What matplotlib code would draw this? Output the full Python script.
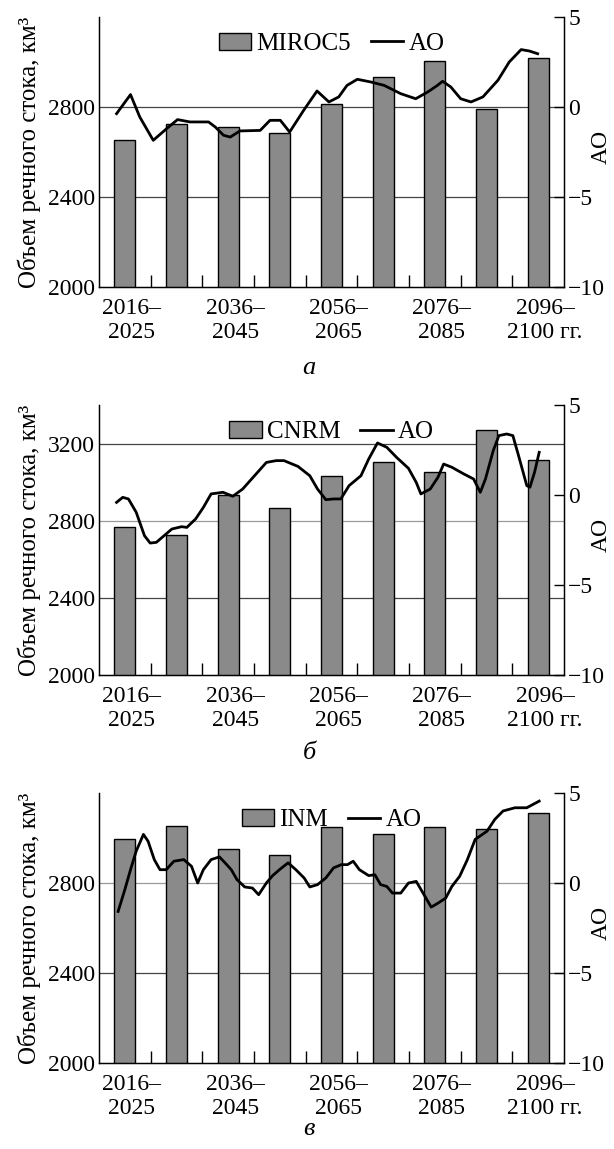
import numpy as np
import matplotlib.pyplot as plt
import matplotlib.transforms as mtransforms
from matplotlib.patches import Patch
from matplotlib.lines import Line2D

plt.rcParams['font.family'] = ['Liberation Serif', 'DejaVu Serif']
plt.rcParams['axes.unicode_minus'] = True

# -------------------------
# Data
# -------------------------
tick_labels = ["2016–\n2025", "2036–\n2045", "2056–\n2065", "2076–\n2085", "2096–\n2100 гг."]
n_periods = 9

models = ["MIROC5", "CNRM", "INM"]
panel_letters = ["а", "б", "в"]

miroc5 = [2652, 2723, 2711, 2683, 2812, 2935, 3003, 2793, 3018]
cnrm = [2770, 2727, 2934, 2864, 3031, 3106, 3052, 3270, 3113]
inm = [2997, 3052, 2950, 2924, 3049, 3019, 3050, 3039, 3110]

# AO curves, x in bar units (0 = first decade)
ao_x_a = [-0.16, 0.11, 0.29, 0.55, 0.81, 1.02, 1.26, 1.62, 1.75, 1.91, 2.04, 2.23, 2.62, 2.81,
          3.01, 3.19, 3.46, 3.72, 3.95, 4.14, 4.30, 4.50, 4.76, 5.02, 5.34, 5.63, 5.86, 6.05,
          6.15, 6.31, 6.50, 6.70, 6.93, 7.22, 7.44, 7.67, 7.83, 7.99]
ao_y_a = [-0.37, 0.69, -0.56, -1.85, -1.20, -0.70, -0.83, -0.83, -1.11, -1.57, -1.67, -1.33,
          -1.30, -0.74, -0.74, -1.39, -0.19, 0.89, 0.28, 0.56, 1.20, 1.54, 1.39, 1.20, 0.74,
          0.46, 0.83, 1.20, 1.43, 1.11, 0.46, 0.28, 0.56, 1.48, 2.50, 3.19, 3.11, 2.96]

ao_x_b = [-0.16, -0.04, 0.07, 0.22, 0.38, 0.49, 0.61, 0.76, 0.91, 1.10, 1.20, 1.37, 1.52, 1.67,
          1.90, 2.09, 2.28, 2.51, 2.74, 2.93, 3.08, 3.35, 3.58, 3.73, 3.89, 4.04, 4.18, 4.34,
          4.57, 4.72, 4.89, 5.07, 5.26, 5.49, 5.64, 5.73, 5.91, 6.06, 6.17, 6.33, 6.56, 6.75,
          6.88, 6.98, 7.13, 7.24, 7.39, 7.51, 7.62, 7.78, 7.84, 7.93, 8.02]
ao_y_b = [-0.41, -0.13, -0.22, -0.96, -2.26, -2.67, -2.63, -2.26, -1.89, -1.76, -1.80, -1.33,
          -0.69, 0.06, 0.15, -0.07, 0.33, 1.07, 1.81, 1.91, 1.91, 1.59, 1.07, 0.33, -0.26,
          -0.22, -0.22, 0.52, 1.07, 2.00, 2.89, 2.65, 2.09, 1.48, 0.70, 0.06, 0.33, 0.98,
          1.72, 1.54, 1.17, 0.89, 0.15, 0.89, 2.46, 3.30, 3.39, 3.30, 2.19, 0.52, 0.43, 1.26, 2.37]

ao_x_c = [-0.13, 0.00, 0.11, 0.22, 0.36, 0.45, 0.57, 0.68, 0.80, 0.95, 1.14, 1.29, 1.41, 1.52,
          1.67, 1.83, 1.94, 2.06, 2.17, 2.32, 2.47, 2.59, 2.74, 2.86, 3.01, 3.16, 3.31, 3.47,
          3.58, 3.73, 3.89, 4.04, 4.19, 4.31, 4.42, 4.54, 4.72, 4.84, 4.95, 5.07, 5.18, 5.34,
          5.49, 5.64, 5.79, 5.93, 6.06, 6.21, 6.33, 6.48, 6.63, 6.78, 7.01, 7.16, 7.32, 7.55,
          7.78, 8.02]
ao_y_c = [-1.58, -0.37, 0.74, 1.77, 2.70, 2.32, 1.30, 0.74, 0.74, 1.21, 1.30, 0.93, 0.00, 0.74,
          1.30, 1.45, 1.12, 0.74, 0.19, -0.22, -0.28, -0.65, 0.00, 0.41, 0.78, 1.12, 0.74,
          0.28, -0.22, -0.09, 0.28, 0.84, 1.02, 1.02, 1.21, 0.74, 0.41, 0.46, -0.09, -0.19,
          -0.56, -0.56, 0.00, 0.09, -0.65, -1.34, -1.12, -0.84, -0.19, 0.37, 1.30, 2.42, 2.88,
          3.53, 4.00, 4.18, 4.18, 4.55]

runoff = [miroc5, cnrm, inm]
ao_x = [ao_x_a, ao_x_b, ao_x_c]
ao_y = [ao_y_a, ao_y_b, ao_y_c]
y_tops = [3200, 3400, 3200]
y_ticks = [[2000, 2400, 2800], [2000, 2400, 2800, 3200], [2000, 2400, 2800]]
grid_colors = [["#444444", "#444444", "#444444"],
               ["#444444", "#444444", "#9a9a9a", "#444444"],
               ["#444444", "#444444", "#9a9a9a"]]

# -------------------------
# Figure
# -------------------------
fig = plt.figure(figsize=(6.14, 11.49), dpi=100)
bottoms = [1 - 287 / 1149, 1 - 675 / 1149, 1 - 1063 / 1149]
letter_y = [1 - 368 / 1149, 1 - 753 / 1149, 1 - 1129 / 1149]
fs = 17
xpos = np.arange(n_periods)
offset = mtransforms.ScaledTranslation(7 / 100, 0, fig.dpi_scale_trans)

for i in range(3):
    ax = fig.add_axes([99 / 614, bottoms[i], 465 / 614, 270 / 1149])
    ax.bar(xpos, runoff[i], width=0.41, color="#8a8a8a", edgecolor="black", linewidth=1.0, zorder=2)
    ax.set_xlim(-0.5, n_periods - 0.5)
    ax.set_ylim(2000, y_tops[i])
    ax.set_yticks(y_ticks[i])
    ax.tick_params(axis="y", length=0, labelsize=fs, pad=3)
    for val, col in zip(y_ticks[i], grid_colors[i]):
        if val > 2000:
            ax.axhline(val, color=col, linewidth=0.9, zorder=1)
    ax.set_xticks(xpos[::2])
    ax.set_xticklabels(tick_labels)
    ax.set_xticks(xpos[:-1] + 0.5, minor=True)
    ax.tick_params(axis="x", which="major", length=0, labelsize=fs, pad=8)
    ax.tick_params(axis="x", which="minor", direction="in", length=9, width=1.0)
    for lab in ax.get_xticklabels():
        lab.set_transform(lab.get_transform() + offset)
    ax.spines["top"].set_visible(False)
    for s in ["left", "bottom", "right"]:
        ax.spines[s].set_linewidth(1.0)
    ax.set_ylabel("Объем речного стока, км³", fontsize=fs + 1, labelpad=5)

    ax2 = ax.twinx()
    ax2.plot(ao_x[i], ao_y[i], color="black", linewidth=2.0, zorder=3)
    ax2.set_ylim(-10, 5)
    ax2.set_yticks([-10, -5, 0, 5])
    ax2.tick_params(axis="y", direction="in", length=7, width=1.0, labelsize=fs, pad=3)
    ax2.spines["top"].set_visible(False)
    ax2.set_ylabel("AO", fontsize=fs)
    ax2.yaxis.set_label_coords(1.058, 0.52)

    handles = [Patch(facecolor="#8a8a8a", edgecolor="black", label=models[i]),
               Line2D([0], [0], color="black", linewidth=2.0, label="AO")]
    ax2.legend(handles=handles, loc="upper center", bbox_to_anchor=(0.5, 1.025), ncol=2,
               frameon=False, fontsize=fs + 1, handlelength=1.3, handletextpad=0.2,
               columnspacing=0.8)

    fig.text(309 / 614, letter_y[i], panel_letters[i], fontsize=fs + 2, style="italic",
             ha="center", va="center")

fig.savefig("out.png", dpi=100)
